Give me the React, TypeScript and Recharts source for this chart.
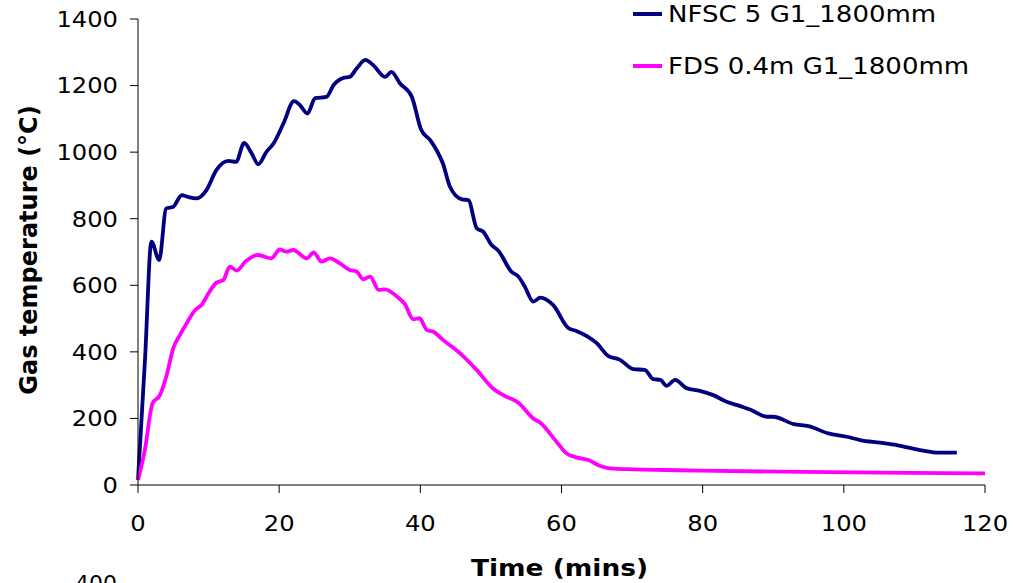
import React from "react";
import { LineChart, Line, XAxis, YAxis, Legend, Label } from "recharts";

const nfscTime = [0, 1, 1.9, 3.0, 4.0, 5.0, 6.2, 7.0, 8.3, 9.7, 11.1, 12.8, 13.9, 15.05, 16.0, 17.05, 18.2, 19.2, 20.6, 22.1, 22.95, 24.0, 25.1, 26.7, 27.7, 29.1, 30.0, 31.0, 32.2, 33.3, 35.0, 35.9, 37.1, 38.8, 40.1, 41.4, 42.3, 43.2, 44.2, 45.9, 46.8, 48.0, 48.9, 50.1, 51.05, 52.9, 53.9, 54.8, 56.0, 57.0, 58.8, 61.0, 62.1, 65.0, 66.6, 68.3, 70.2, 71.8, 73.0, 74.0, 74.9, 76.1, 77.7, 79.6, 81.5, 83.4, 85.3, 86.7, 89.1, 90.0, 92.9, 95.0, 97.8, 100.4, 102.3, 105.1, 107.5, 110.8, 113.6, 116];
const nfscTemp = [15, 380, 731, 676, 831, 836, 871, 866, 861, 886, 946, 974, 971, 1028, 1000, 964, 1001, 1026, 1086, 1153, 1141, 1116, 1162, 1166, 1201, 1223, 1226, 1252, 1277, 1262, 1226, 1241, 1207, 1166, 1068, 1036, 1006, 966, 896, 858, 856, 771, 761, 721, 704, 641, 626, 596, 551, 563, 541, 471, 463, 426, 388, 376, 348, 346, 318, 316, 298, 316, 291, 283, 270, 250, 237, 227, 205, 205, 183, 177, 155, 145, 135, 127, 120, 105, 97, 97];

const fdsTime = [0, 0.97, 2.05, 3.1, 4.06, 5.0, 5.95, 7.0, 8.1, 9.0, 10.0, 11.1, 12.1, 13.0, 14.0, 15.2, 17.0, 18.9, 20.1, 21.0, 22.0, 23.9, 24.9, 26.0, 27.2, 28.6, 30.0, 31.0, 31.9, 32.9, 34.1, 35.0, 36.7, 37.8, 39.0, 39.9, 40.9, 41.8, 43.2, 45.6, 48.0, 50.3, 51.75, 53.9, 56.0, 57.0, 59.3, 60.7, 62.1, 63.8, 65.5, 66.9, 70.2, 74.9, 79.6, 91, 105, 120];
const fdsTemp = [15, 105, 245, 270, 330, 411, 451, 490, 526, 541, 576, 608, 616, 656, 644, 671, 691, 681, 708, 701, 706, 681, 699, 671, 681, 666, 646, 641, 618, 626, 586, 588, 566, 544, 498, 501, 466, 461, 436, 396, 345, 290, 270, 247, 200, 187, 130, 95, 83, 75, 57, 50, 47, 45, 43, 40, 37, 35];

const xTicks = [0, 20, 40, 60, 80, 100, 120];
const yTicks = [0, 200, 400, 600, 800, 1000, 1200, 1400];
const seriesNames = ["NFSC 5 G1_1800mm", "FDS 0.4m G1_1800mm"];
const seriesColors = ["#000080", "#FF00FF"];

const nfscData = nfscTime.map((t, i) => ({ t, v: nfscTemp[i] }));
const fdsData = fdsTime.map((t, i) => ({ t, v: fdsTemp[i] }));

const FONT = "'DejaVu Sans', Verdana, sans-serif";
const SX = 1.1;

const YTick = (props: any) => {
  const { x, y, payload } = props;
  return (
    <g transform={`translate(${x},${y})`}>
      <text x={0} y={0} dy="0.36em" textAnchor="end" transform={`scale(${SX},1)`} fontSize={22} fill="#000" fontFamily={FONT}>
        {payload.value}
      </text>
    </g>
  );
};

const XTick = (props: any) => {
  const { x, y, payload } = props;
  return (
    <g transform={`translate(${x},${y})`}>
      <text x={0} y={0} dy="0.71em" textAnchor="middle" transform={`scale(${SX},1)`} fontSize={22} fill="#000" fontFamily={FONT}>
        {payload.value}
      </text>
    </g>
  );
};

const LegendContent = () => (
  <div style={{ position: "relative", width: 380, height: 90, fontFamily: FONT }}>
    {seriesNames.map((name, i) => (
      <div key={name} style={{ position: "absolute", left: 0, top: i * 52, height: 28, display: "flex", alignItems: "center", whiteSpace: "nowrap" }}>
        <div style={{ width: 29, height: 4, background: seriesColors[i] }} />
        <span style={{ marginLeft: 6, fontSize: 23, color: "#000", display: "inline-block", transform: "scale(1.13,1)", transformOrigin: "left center" }}>{name}</span>
      </div>
    ))}
  </div>
);

export default function App() {
  return (
    <div style={{ position: "absolute", left: 0, top: 0, width: 1013, height: 583, overflow: "hidden", background: "#fff" }}>
      <LineChart width={1013} height={583} margin={{ top: 19, right: 28, bottom: 0, left: 0 }}>
        <XAxis
          dataKey="t"
          type="number"
          domain={[0, 120]}
          ticks={xTicks}
          allowDuplicatedCategory={false}
          height={98}
          axisLine={{ stroke: "#808080", strokeWidth: 2 }}
          tickLine={{ stroke: "#000", strokeWidth: 1 }}
          tickSize={8}
          tickMargin={22}
          tick={<XTick />}
        >
          <Label
            content={(p: any) => {
              const vb = p.viewBox;
              const cx = vb.x + vb.width / 2 - 2;
              return (
                <text x={0} y={vb.y + 83} dy="0.36em" textAnchor="middle" fontSize={23} fontWeight="bold" fill="#000" fontFamily={FONT}
                  transform={`translate(${cx},0) scale(1.15,1)`}>
                  Time (mins)
                </text>
              );
            }}
          />
        </XAxis>
        <YAxis
          type="number"
          domain={[0, 1400]}
          ticks={yTicks}
          width={138}
          axisLine={{ stroke: "#000", strokeWidth: 1 }}
          tickLine={{ stroke: "#000", strokeWidth: 1 }}
          tickSize={8}
          tickMargin={12}
          tick={<YTick />}
        >
          <Label
            content={(p: any) => {
              const vb = p.viewBox;
              const cx = vb.x + 28;
              const cy = vb.y + vb.height / 2 - 2;
              return (
                <text x={cx} y={cy} dy="0.36em" textAnchor="middle" fontSize={24} fontWeight="bold" fill="#000" fontFamily={FONT}
                  transform={`rotate(-90, ${cx}, ${cy})`}>
                  Gas temperature (°C)
                </text>
              );
            }}
          />
        </YAxis>
        <Legend layout="vertical" align="center" verticalAlign="middle" content={<LegendContent />} wrapperStyle={{ position: "absolute", left: 633, top: 0, width: 380, height: 90 }} />
        <Line data={nfscData} dataKey="v" name={seriesNames[0]} type="monotone" stroke={seriesColors[0]} strokeWidth={3.8} dot={false} isAnimationActive={false} />
        <Line data={fdsData} dataKey="v" name={seriesNames[1]} type="monotone" stroke={seriesColors[1]} strokeWidth={3.8} dot={false} isAnimationActive={false} />
      </LineChart>
      <div style={{ position: "absolute", left: 0, top: 573, width: 117, textAlign: "right", fontSize: 22, lineHeight: "22px", fontFamily: FONT, color: "#000" }}>400</div>
    </div>
  );
}
